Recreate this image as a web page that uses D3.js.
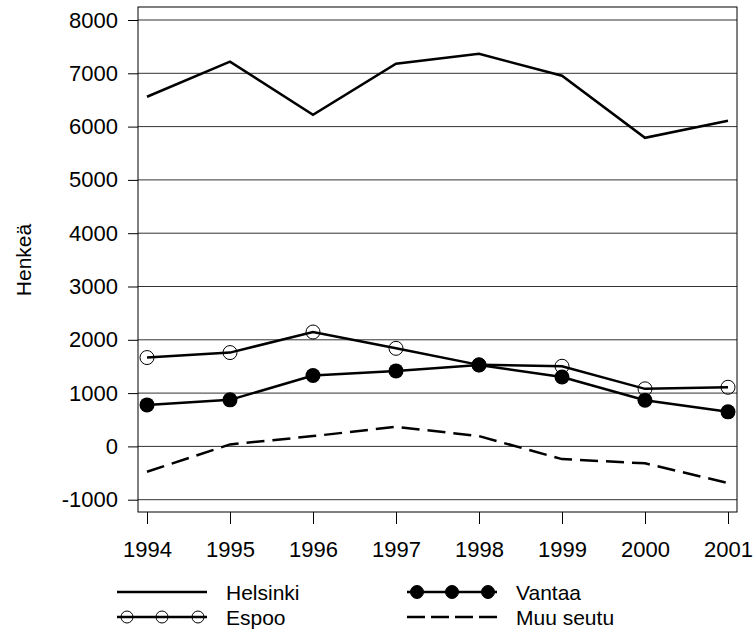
<!DOCTYPE html>
<html>
<head>
    <meta charset="utf-8">
    <title>Henkeä 1994-2001</title>
    <script src="https://cdn.jsdelivr.net/npm/d3@7"></script>
    <style>
        body { margin: 0; background: #fff; }
        svg text { font-family: "Liberation Sans", Arial, sans-serif; fill: #000; }
    </style>
</head>
<body>
    <div id="chart"></div>
    <script>
        // data
        var years = [1994, 1995, 1996, 1997, 1998, 1999, 2000, 2001];
        var helsinki = [6560, 7220, 6220, 7180, 7365, 6955, 5790, 6110];
        var espoo = [1667, 1760, 2146, 1840, 1530, 1504, 1080, 1110];
        var vantaa = [779, 873, 1330, 1416, 1528, 1303, 867, 648];
        var muuSeutu = [-475, 37, 193, 367, 193, -238, -318, -687];
        var yTicks = [-1000, 0, 1000, 2000, 3000, 4000, 5000, 6000, 7000, 8000];

        var width = 753, height = 632;
        var box = { left: 138, right: 737, top: 7, bottom: 512 };

        var svg = d3.select("#chart").append("svg")
            .attr("width", width)
            .attr("height", height);

        var x = d3.scalePoint()
            .domain(years)
            .range([147, 728]);

        var y = d3.scaleLinear()
            .domain([-1000, 8000])
            .range([499.7, 20]);

        // grid lines
        svg.append("g")
            .selectAll("line")
            .data(yTicks)
            .enter().append("line")
            .attr("x1", box.left)
            .attr("x2", box.right)
            .attr("y1", d => y(d))
            .attr("y2", d => y(d))
            .attr("stroke", "#333")
            .attr("stroke-width", 1);

        // y axis (plain hyphen for negatives, as in the original)
        var yAxis = svg.append("g")
            .attr("transform", "translate(" + box.left + ",0)")
            .call(d3.axisLeft(y).tickValues(yTicks).tickSize(10).tickPadding(10).tickFormat(d => String(d)));
        yAxis.select(".domain").remove();
        yAxis.selectAll("text").style("font-size", "22px");

        // x axis
        var xAxis = svg.append("g")
            .attr("transform", "translate(0," + box.bottom + ")")
            .call(d3.axisBottom(x).tickSize(12).tickPadding(17).tickFormat(d => String(d)));
        xAxis.select(".domain").remove();
        xAxis.selectAll("text").style("font-size", "22px");

        // frame
        svg.append("rect")
            .attr("x", box.left)
            .attr("y", box.top)
            .attr("width", box.right - box.left)
            .attr("height", box.bottom - box.top)
            .attr("fill", "none")
            .attr("stroke", "#000")
            .attr("stroke-width", 1);

        svg.append("text")
            .attr("transform", "translate(31,260) rotate(-90)")
            .attr("text-anchor", "middle")
            .style("font-size", "21px")
            .text("Henkeä");

        var line = d3.line()
            .x((d, i) => x(years[i]))
            .y(d => y(d));

        function drawLine(values, dash) {
            svg.append("path")
                .datum(values)
                .attr("d", line)
                .attr("fill", "none")
                .attr("stroke", "#000")
                .attr("stroke-width", 2.5)
                .attr("stroke-dasharray", dash || null);
        }

        drawLine(helsinki);
        drawLine(muuSeutu, "18,8");
        drawLine(espoo);
        drawLine(vantaa);

        svg.append("g")
            .selectAll("circle")
            .data(espoo)
            .enter().append("circle")
            .attr("cx", (d, i) => x(years[i]))
            .attr("cy", d => y(d))
            .attr("r", 7)
            .attr("fill", "none")
            .attr("stroke", "#000")
            .attr("stroke-width", 1);

        svg.append("g")
            .selectAll("circle")
            .data(vantaa)
            .enter().append("circle")
            .attr("cx", (d, i) => x(years[i]))
            .attr("cy", d => y(d))
            .attr("r", 7.5)
            .attr("fill", "#000");

        // legend
        var legend = svg.append("g");
        function legendItem(lx, ly, label, type) {
            var g = legend.append("g").attr("transform", "translate(" + lx + "," + ly + ")");
            g.append("line")
                .attr("x1", 0).attr("x2", 90)
                .attr("stroke", "#000")
                .attr("stroke-width", 2.5)
                .attr("stroke-dasharray", type === "dash" ? "18,6" : null);
            if (type === "open" || type === "filled") {
                g.selectAll("circle")
                    .data([10, 45, 81])
                    .enter().append("circle")
                    .attr("cx", d => d)
                    .attr("r", type === "open" ? 6 : 6.5)
                    .attr("fill", type === "open" ? "none" : "#000")
                    .attr("stroke", "#000")
                    .attr("stroke-width", 1);
            }
            g.append("text")
                .attr("x", 109)
                .attr("dy", "0.36em")
                .style("font-size", "21px")
                .text(label);
        }
        legendItem(117, 592, "Helsinki", "solid");
        legendItem(117, 617, "Espoo", "open");
        legendItem(407, 592, "Vantaa", "filled");
        legendItem(407, 617, "Muu seutu", "dash");
    </script>
</body>
</html>
